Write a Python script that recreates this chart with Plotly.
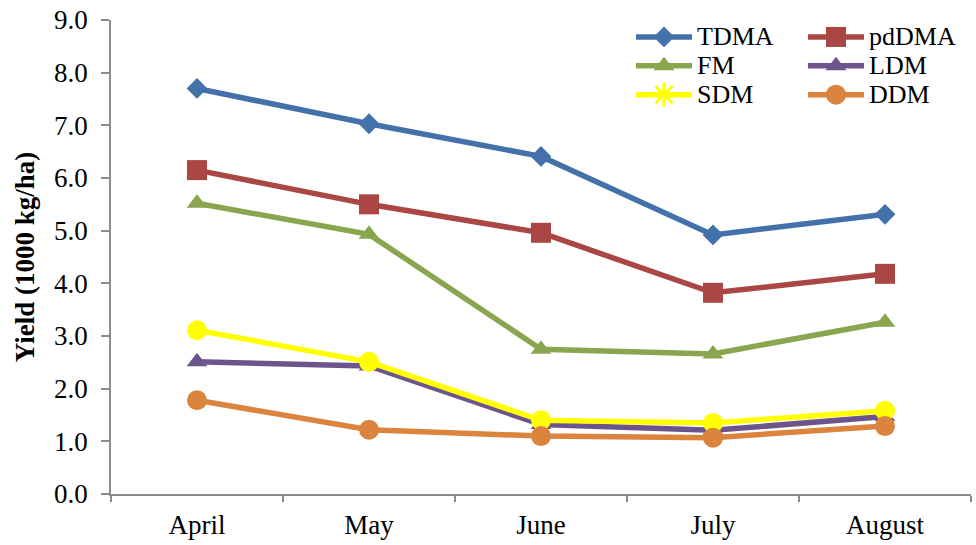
import plotly.graph_objects as go

months = ["April", "May", "June", "July", "August"]

tdma = [7.70, 7.03, 6.41, 4.92, 5.31]
pddma = [6.15, 5.50, 4.96, 3.82, 4.18]
fm = [5.52, 4.93, 2.75, 2.66, 3.26]
ldm = [2.51, 2.43, 1.32, 1.21, 1.47]
sdm = [3.11, 2.51, 1.40, 1.35, 1.58]
ddm = [1.78, 1.22, 1.10, 1.07, 1.29]

# name, values, colour, plot marker, plot marker size, key marker
series = [
    ("TDMA", tdma, "#4371AA", "diamond", 16, "diamond"),
    ("pdDMA", pddma, "#AA4643", "square", 20, "square"),
    ("FM", fm, "#89A54E", "triangle-up", 18, "triangle-up"),
    ("LDM", ldm, "#6E548D", "triangle-up", 18, "triangle-up"),
    ("SDM", sdm, "#FFFF00", "circle", 20, "asterisk-open"),
    ("DDM", ddm, "#DB843D", "circle", 20, "circle"),
]

FONT = "'Liberation Serif', 'Times New Roman', Times, 'DejaVu Serif', serif"
W, H = 976, 545
L, R, T, B = 111, 5, 19, 50

fig = go.Figure()
for name, vals, color, symbol, size, _ in series:
    fig.add_trace(go.Scatter(
        x=months, y=vals, name=name, mode="lines+markers",
        line=dict(color=color, width=5.5),
        marker=dict(symbol=symbol, size=size, color=color,
                    line=dict(width=0)),
        showlegend=False,
    ))

# Two-column key drawn on an overlay axis measured in pixels of the plot area
key_cols = [636, 808]     # left end of the sample line
key_rows = [36, 65, 94]   # row centre
sample_len = 56
annotations = []
for i, (name, _, color, _, size, key_symbol) in enumerate(series):
    col, row = i % 2, i // 2
    x0 = key_cols[col]
    yc = key_rows[row]
    msize = size if key_symbol != "asterisk-open" else 20
    fig.add_trace(go.Scatter(
        x=[x0, x0 + sample_len / 2, x0 + sample_len],
        y=[yc, yc, yc],
        mode="lines",
        line=dict(color=color, width=5.5),
        xaxis="x2", yaxis="y2", showlegend=False, hoverinfo="skip",
    ))
    fig.add_trace(go.Scatter(
        x=[x0 + sample_len / 2], y=[yc], mode="markers",
        marker=dict(symbol=key_symbol, size=msize, color=color,
                    line=dict(width=3 if key_symbol == "asterisk-open" else 0,
                              color=color)),
        xaxis="x2", yaxis="y2", showlegend=False, hoverinfo="skip",
    ))
    annotations.append(dict(
        x=x0 + sample_len + 4, y=yc, xref="x2", yref="y2",
        text=name, showarrow=False, xanchor="left", yanchor="middle",
        borderpad=0,
        font=dict(family=FONT, size=26, color="black"),
    ))

fig.update_layout(
    width=W, height=H,
    margin=dict(l=L, r=R, t=T, b=B),
    paper_bgcolor="white", plot_bgcolor="white",
    font=dict(family=FONT, size=27, color="black"),
    showlegend=False,
    annotations=annotations,
    xaxis=dict(
        range=[-0.5, len(months) - 0.5],
        showline=True, linecolor="#8C8C8C", linewidth=1.5,
        ticks="outside", tickson="boundaries", ticklen=6,
        tickcolor="#8C8C8C", tickwidth=1.5,
        showgrid=False, zeroline=False,
        ticklabelstandoff=6,
        tickfont=dict(size=27, family=FONT),
    ),
    yaxis=dict(
        range=[0, 9], dtick=1, tickformat=".1f",
        showline=True, linecolor="#8C8C8C", linewidth=1.5,
        ticks="outside", ticklen=8, tickcolor="#8C8C8C", tickwidth=1.5,
        showgrid=False, zeroline=False,
        ticklabelstandoff=8,
        tickfont=dict(size=27, family=FONT),
        title=dict(text="<b>Yield (1000 kg/ha)</b>",
                   font=dict(size=27, family=FONT), standoff=12),
    ),
    xaxis2=dict(overlaying="x", range=[L, W - R], visible=False,
                fixedrange=True),
    yaxis2=dict(overlaying="y", range=[H - B, T], visible=False,
                fixedrange=True),
)

fig.write_html("out.html")
